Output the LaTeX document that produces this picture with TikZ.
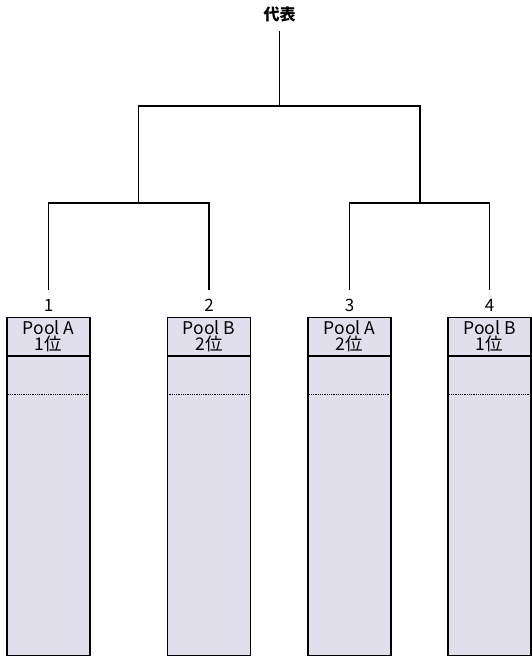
\documentclass[tikz,border=0pt]{standalone}
\usepackage{fontspec}
\setmainfont{Noto Sans CJK JP}
\usepackage{xcolor}
\usetikzlibrary{calc}
\definecolor{poolfill}{HTML}{E2DFEC}

\begin{document}
\begin{tikzpicture}[x=1pt, y=-1pt,
    wire/.style={black, line width=1.3pt},
    lane/.style={draw=black, fill=poolfill, line width=1.4pt, anchor=north,
      minimum width=83pt, minimum height=338pt, inner sep=0pt},
    head/.style={font=\fontsize{17.5}{16}\selectfont, align=center, inner sep=0pt},
    seed/.style={font=\fontsize{17}{17}\selectfont, inner sep=0pt, minimum height=30pt}]
  \useasboundingbox (0,0) rectangle (532,659);

  % Pool columns
  \node[lane] (c1) at (48.5,317) {};
  \node[lane] (c2) at (209,317) {};
  \node[lane] (c3) at (349.5,317) {};
  \node[lane] (c4) at (489.5,317) {};

  % Header and dotted lines
  \draw[line width=1.3pt] ($(c1.north west)+(0,39)$) -- ($(c1.north east)+(0,39)$);
  \draw[line width=1.3pt] ($(c2.north west)+(0,39)$) -- ($(c2.north east)+(0,39)$);
  \draw[line width=1.3pt] ($(c3.north west)+(0,39)$) -- ($(c3.north east)+(0,39)$);
  \draw[line width=1.3pt] ($(c4.north west)+(0,39)$) -- ($(c4.north east)+(0,39)$);
  \draw[densely dotted, line width=0.8pt] ($(c1.north west)+(0,77)$) -- ($(c1.north east)+(0,77)$);
  \draw[densely dotted, line width=0.8pt] ($(c2.north west)+(0,77)$) -- ($(c2.north east)+(0,77)$);
  \draw[densely dotted, line width=0.8pt] ($(c3.north west)+(0,77)$) -- ($(c3.north east)+(0,77)$);
  \draw[densely dotted, line width=0.8pt] ($(c4.north west)+(0,77)$) -- ($(c4.north east)+(0,77)$);

  % Header texts
  \node[head] (h1) at (48.5,336) {Pool A\\1位};
  \node[head] (h2) at (209,336) {Pool B\\2位};
  \node[head] (h3) at (349.5,336) {Pool A\\2位};
  \node[head] (h4) at (489.5,336) {Pool B\\1位};

  % Seed numbers
  \node[seed] (n1) at (48.5,305) {1};
  \node[seed] (n2) at (209,305) {2};
  \node[seed] (n3) at (349.5,305) {3};
  \node[seed] (n4) at (489.5,305) {4};

  % Winner
  \node[font=\bfseries\fontsize{16}{17}\selectfont] (rep) at (279.5,14) {代表};

  % Bracket
  \coordinate (m12) at (138.5,203);
  \coordinate (m34) at (420,203);
  \coordinate (top) at (279.5,106);
  \draw[wire] (n1.north) |- (m12) -| (n2.north);
  \draw[wire] (n3.north) |- (m34) -| (n4.north);
  \draw[wire] (m12) |- (top) -| (m34);
  \draw[wire] (top) -- ($(rep.south)+(0,6)$);
\end{tikzpicture}
\end{document}
